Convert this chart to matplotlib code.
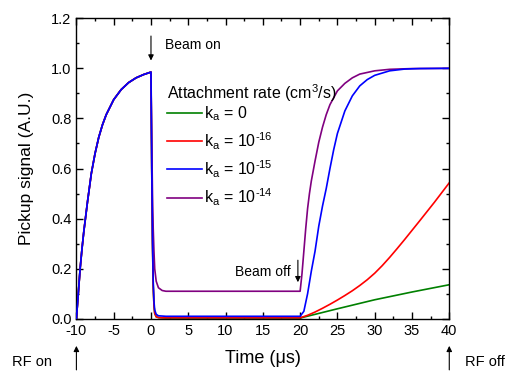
import numpy as np
import matplotlib
matplotlib.use('Agg')
import matplotlib.pyplot as plt

plt.rcParams['font.family'] = ['Liberation Sans', 'DejaVu Sans']
plt.rcParams['mathtext.default'] = 'regular'
plt.rcParams['axes.unicode_minus'] = False

# RF on, cavity filling (same for all curves)
t_rise = [-10, -9.75, -9.5, -9.25, -9, -8.5, -8, -7.5, -7, -6.5, -6, -5, -4, -3, -2, -1, 0]
y_rise = [0, 0.10, 0.20, 0.28, 0.35, 0.47, 0.58, 0.66, 0.725, 0.775, 0.815, 0.875, 0.915, 0.943, 0.962, 0.975, 0.985]

# beam on (0..20 us)
t_on = [0, 0.1, 0.2, 0.3, 0.4, 0.5, 0.7, 1.0, 1.5, 2, 20]
y_on_k0 = [0.985, 0.60, 0.31, 0.13, 0.055, 0.022, 0.008, 0.005, 0.004, 0.003, 0.003]
y_on_k16 = [0.985, 0.60, 0.31, 0.13, 0.055, 0.022, 0.008, 0.005, 0.004, 0.004, 0.004]
y_on_k15 = [0.985, 0.62, 0.33, 0.15, 0.07, 0.035, 0.018, 0.012, 0.011, 0.01, 0.01]
y_on_k14 = [0.985, 0.72, 0.50, 0.36, 0.27, 0.20, 0.15, 0.124, 0.113, 0.11, 0.11]

# beam off (20..40 us)
t_off_k0 = [20, 25, 30, 35, 40]
y_off_k0 = [0.003, 0.04, 0.076, 0.107, 0.136]
t_off_k16 = [20, 21, 22, 23, 24, 25, 26, 27, 28, 29, 30, 31, 32, 33, 34, 35, 36, 38, 40]
y_off_k16 = [0.004, 0.014, 0.027, 0.042, 0.058, 0.075, 0.093, 0.112, 0.133, 0.156, 0.182,
             0.212, 0.245, 0.28, 0.316, 0.353, 0.39, 0.465, 0.543]
t_off_k15 = [20, 20.5, 21, 21.5, 22, 22.5, 23, 23.5, 24, 24.5, 25, 26, 27, 28, 29, 30, 32, 34, 36, 40]
y_off_k15 = [0.01, 0.03, 0.10, 0.19, 0.27, 0.37, 0.45, 0.52, 0.60, 0.675, 0.74, 0.83, 0.89, 0.93,
             0.955, 0.972, 0.99, 0.997, 0.999, 1.0]
t_off_k14 = [20, 20.25, 20.5, 20.75, 21, 21.25, 21.5, 22, 22.5, 23, 23.5, 24, 25, 26, 27, 28, 30, 32, 35, 40]
y_off_k14 = [0.11, 0.18, 0.27, 0.36, 0.44, 0.50, 0.55, 0.63, 0.705, 0.765, 0.815, 0.855, 0.91, 0.94,
             0.962, 0.977, 0.99, 0.996, 0.999, 1.0]

labels = ['k$_a$ = 0', 'k$_a$ = 10$^{‐16}$', 'k$_a$ = 10$^{‐15}$', 'k$_a$ = 10$^{‐14}$']
colors = ['#008000', '#ff0000', '#0000ff', '#800080']


def full(y_on, t_off, y_off):
    t = t_rise + t_on[1:] + t_off[1:]
    y = y_rise + y_on[1:] + y_off[1:]
    return t, y


series = [
    full(y_on_k0, t_off_k0, y_off_k0),
    full(y_on_k16, t_off_k16, y_off_k16),
    full(y_on_k15, t_off_k15, y_off_k15),
    full(y_on_k14, t_off_k14, y_off_k14),
]

fig = plt.figure(figsize=(5.08, 3.72), dpi=100)
ax = fig.add_axes([0.1504, 0.143, 0.734, 0.808])

lines = []
for (t, y), c, lab in zip(series, colors, labels):
    ln, = ax.plot(t, y, color=c, lw=1.2, label=lab)
    lines.append(ln)
# blue drawn above purple like in the original
lines[2].set_zorder(3)

ax.set_xlim(-10, 40)
ax.set_ylim(0, 1.2)
ax.set_xticks(np.arange(-10, 41, 5))
ax.set_xticks(np.arange(-10, 41, 2.5), minor=True)
ax.set_yticks(np.arange(0, 1.21, 0.2))
ax.set_yticks(np.arange(0, 1.21, 0.1), minor=True)
ax.yaxis.set_major_formatter(matplotlib.ticker.FormatStrFormatter('%.1f'))
ax.tick_params(which='both', direction='in', top=True, right=True, labelsize=10.5)
ax.tick_params(which='major', length=5, width=1)
ax.tick_params(which='minor', length=2.5, width=1)
for s in ax.spines.values():
    s.set_linewidth(1)

ax.set_xlabel('Time (μs)', fontsize=13, labelpad=9)
ax.set_ylabel('Pickup signal (A.U.)', fontsize=12.5, labelpad=12)

ax.text(0.243, 0.750, 'Attachment rate (cm$^3$/s)', transform=ax.transAxes,
        fontsize=11.5, va='center', ha='left')
leg = ax.legend(handles=lines, loc='upper left', bbox_to_anchor=(0.243, 0.712),
                fontsize=11.5, frameon=False, handlelength=2.2, handletextpad=0.1,
                labelspacing=0.42, borderpad=0, borderaxespad=0)

# beam markers
ax.annotate('', xy=(0, 1.02), xytext=(0, 1.14),
            arrowprops=dict(arrowstyle='-|>', color='black', lw=0.8, mutation_scale=8))
ax.text(1.9, 1.095, 'Beam on', fontsize=10, va='center', ha='left')
ax.annotate('', xy=(19.7, 0.135), xytext=(19.7, 0.245),
            arrowprops=dict(arrowstyle='-|>', color='black', lw=0.8, mutation_scale=8))
ax.text(11.3, 0.186, 'Beam off', fontsize=10, va='center', ha='left')

# RF markers below the axis
ax.annotate('', xy=(-10, -0.097), xytext=(-10, -0.215), annotation_clip=False,
            arrowprops=dict(arrowstyle='-|>', color='black', lw=0.8, mutation_scale=8))
ax.text(-18.7, -0.173, 'RF on', fontsize=10.5, va='center', ha='left', clip_on=False)
ax.annotate('', xy=(40, -0.097), xytext=(40, -0.215), annotation_clip=False,
            arrowprops=dict(arrowstyle='-|>', color='black', lw=0.8, mutation_scale=8))
ax.text(42.1, -0.173, 'RF off', fontsize=10.5, va='center', ha='left', clip_on=False)

fig.savefig('out.png', dpi=100)
